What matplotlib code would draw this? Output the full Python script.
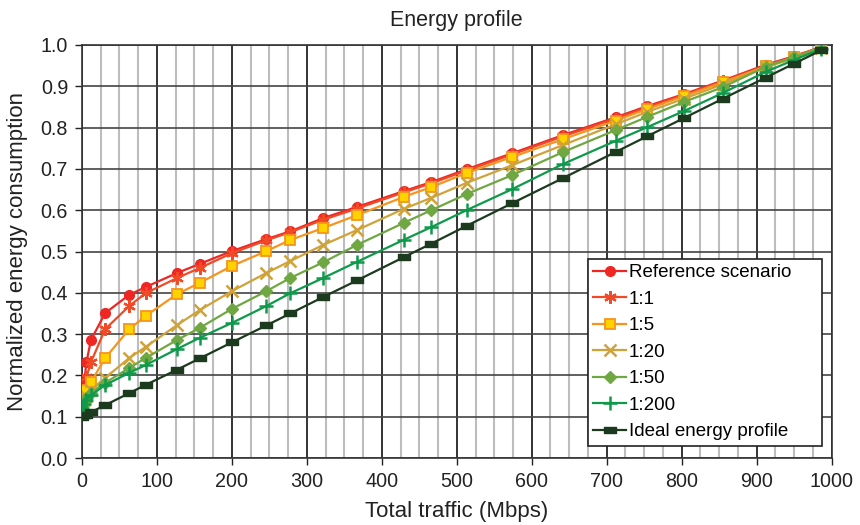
import matplotlib
matplotlib.use("Agg")
import matplotlib.pyplot as plt
from matplotlib.ticker import MultipleLocator

plt.rcParams['font.family'] = ['Liberation Sans', 'DejaVu Sans']

traffic = [0, 3, 6, 12, 31, 63, 85, 127, 157, 200, 246, 278, 322, 367, 429, 466,
           513, 574, 642, 712, 754, 803, 855, 912, 950, 986]

reference = [0.140, 0.184, 0.232, 0.286, 0.351, 0.395, 0.414, 0.448, 0.470, 0.501, 0.530, 0.549,
             0.581, 0.608, 0.646, 0.668, 0.699, 0.738, 0.782, 0.825, 0.852, 0.881, 0.914, 0.952,
             0.973, 0.995]
r1_1 = [0.140, 0.160, 0.196, 0.232, 0.312, 0.368, 0.399, 0.436, 0.460, 0.496, 0.527, 0.547,
        0.577, 0.604, 0.643, 0.665, 0.696, 0.735, 0.779, 0.822, 0.849, 0.879, 0.912, 0.950,
        0.972, 0.995]
r1_5 = [0.135, 0.150, 0.165, 0.184, 0.242, 0.312, 0.344, 0.397, 0.424, 0.465, 0.501, 0.528,
        0.557, 0.588, 0.632, 0.656, 0.690, 0.729, 0.772, 0.817, 0.845, 0.876, 0.910, 0.948,
        0.970, 0.994]
r1_20 = [0.130, 0.140, 0.150, 0.165, 0.194, 0.242, 0.269, 0.322, 0.358, 0.404, 0.448, 0.477,
         0.516, 0.552, 0.603, 0.630, 0.666, 0.709, 0.758, 0.808, 0.838, 0.870, 0.905, 0.946,
         0.968, 0.993]
r1_50 = [0.125, 0.135, 0.145, 0.158, 0.182, 0.218, 0.242, 0.286, 0.315, 0.361, 0.404, 0.436,
         0.474, 0.516, 0.569, 0.600, 0.639, 0.685, 0.741, 0.794, 0.826, 0.862, 0.898, 0.947,
         0.971, 0.993]
r1_200 = [0.120, 0.130, 0.140, 0.152, 0.177, 0.206, 0.225, 0.264, 0.291, 0.327, 0.368, 0.399,
          0.436, 0.475, 0.528, 0.559, 0.600, 0.651, 0.712, 0.768, 0.801, 0.840, 0.884, 0.935,
          0.964, 0.990]
ideal = [0.100, 0.103, 0.105, 0.111, 0.128, 0.157, 0.177, 0.214, 0.241, 0.280, 0.321, 0.350,
         0.390, 0.430, 0.486, 0.519, 0.562, 0.617, 0.678, 0.741, 0.779, 0.823, 0.870, 0.921,
         0.955, 0.987]

labels = ["Reference scenario", "1:1", "1:5", "1:20", "1:50", "1:200", "Ideal energy profile"]

fig = plt.figure(figsize=(8.6, 5.25), dpi=100)
ax = fig.add_axes([0.0953, 0.1276, 0.8717, 0.7867])

bar = [(-1, -0.45), (1, -0.45), (1, 0.45), (-1, 0.45), (-1, -0.45)]

styles = [
    (reference, dict(color='#EE2724', marker='o', ms=7, mfc='#EE2724', mec='#EE2724')),
    (r1_1, dict(color='#F04A26', marker=(6, 2, 0), ms=9, mec='#F04A26', mew=1.6)),
    (r1_5, dict(color='#F7941D', marker='s', ms=6.5, mfc='#FFD200', mec='#F7941D', mew=1.3)),
    (r1_20, dict(color='#CFA33A', marker='x', ms=8, mec='#CFA33A', mew=1.8)),
    (r1_50, dict(color='#6FA843', marker='D', ms=6, mfc='#6FA843', mec='#6FA843')),
    (r1_200, dict(color='#0E9A4A', marker='+', ms=10, mec='#0E9A4A', mew=1.8)),
    (ideal, dict(color='#1C3A1E', marker=bar, ms=9, mfc='#1C3A1E', mec='#1C3A1E')),
]

for (vals, st), lab in zip(styles, labels):
    ax.plot(traffic, vals, lw=1.6, label=lab, zorder=3, **st)

ax.set_xlim(0, 1000)
ax.set_ylim(0, 1.0)
ax.xaxis.set_major_locator(MultipleLocator(100))
ax.xaxis.set_minor_locator(MultipleLocator(25))
ax.yaxis.set_major_locator(MultipleLocator(0.1))
ax.yaxis.set_major_formatter(plt.FuncFormatter(lambda v, p: f"{v:.1f}"))

ax.grid(which='minor', axis='x', color='#BDBDBD', lw=1.5, zorder=0)
ax.grid(which='major', axis='x', color='#111111', lw=1.2, zorder=1)
ax.grid(which='major', axis='y', color='#444444', lw=1.2, zorder=1)
ax.set_axisbelow(True)

ax.tick_params(axis='both', which='major', labelsize=14.2, direction='out', length=5,
               width=1, color='#222222', labelcolor='#222222', pad=5)
ax.tick_params(axis='x', which='minor', length=0)
for s in ax.spines.values():
    s.set_color('#333333')
    s.set_linewidth(1.2)

ax.set_xlabel("Total traffic (Mbps)", fontsize=16, color='#222222')
ax.set_ylabel("Normalized energy consumption", fontsize=16, color='#222222')
ax.xaxis.set_label_coords(0.5, -0.103)
ax.yaxis.set_label_coords(-0.072, 0.5)
ax.set_title("Energy profile", fontsize=15.5, color='#222222', pad=14)

leg = ax.legend(loc='lower left', bbox_to_anchor=(0.6747, 0.029, 0.312, 0.45),
                mode='expand', fontsize=13.5,
                frameon=True, fancybox=False, framealpha=1, edgecolor='#222222',
                handlelength=1.75, handletextpad=0.15, labelspacing=0.5,
                borderpad=0.3, borderaxespad=0)
leg.get_frame().set_linewidth(1.2)

fig.savefig("out.png", dpi=100)
